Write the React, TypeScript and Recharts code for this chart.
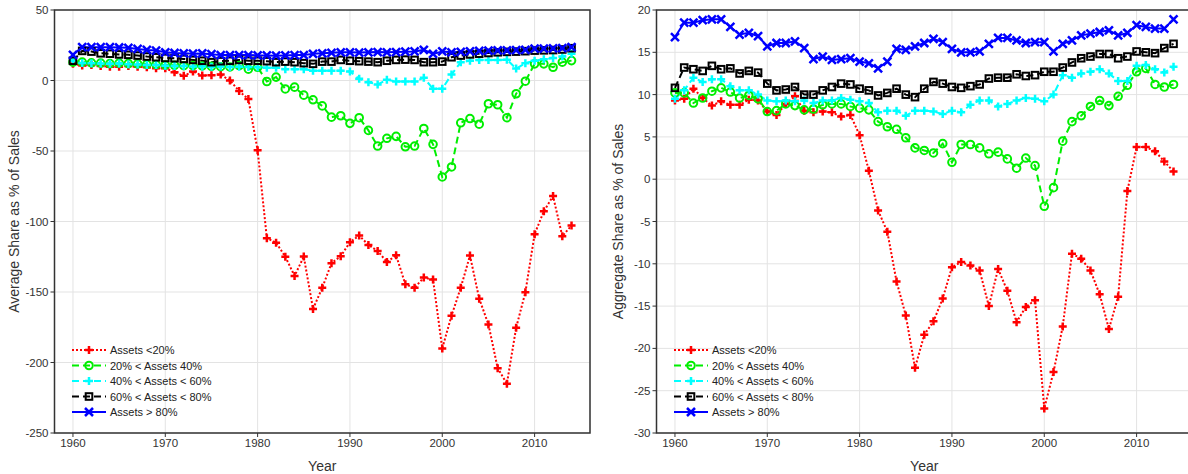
import React from 'react';
import { LineChart, Line, XAxis, YAxis, CartesianGrid, ReferenceArea, Label } from 'recharts';

const years = Array.from({ length: 55 }, (_, i) => 1960 + i);

const avgLt20 = [11.8,10.6,11,10.2,9.8,9.8,10.2,9.8,9.4,8.7,8.7,5.9,3.3,6.4,3.5,3.8,4.2,0,-7.5,-13.2,-49.5,-111.8,-115,-125,-138.6,-124.9,-162,-147,-129.6,-124.6,-114.7,-110,-116.6,-120.9,-128.7,-124,-144.5,-147,-139.8,-141.2,-190,-166.8,-147,-124.2,-154.7,-173,-204,-215,-175.4,-150.2,-109,-92.7,-82,-110.4,-102.8];
const avg20_40 = [13,13,12.5,12.3,12,12.3,12,11.8,11.5,11.3,11,10.8,10.5,10.6,10.3,10,9.8,9.6,10.6,8,9.4,-0.7,2.4,-6,-4.7,-10.4,-13.7,-18,-26,-25,-30.4,-26.4,-35.4,-46.5,-41,-39.6,-47,-46.5,-34,-45.3,-68.4,-61.3,-30,-27,-31,-16.5,-17.2,-26.4,-9.4,-0.5,11.8,11.8,9.4,13,14.1];
const avg40_60 = [14,12.5,12.3,12,11.8,12,11.5,11.3,11,11,10.5,10.3,10.2,10,10,9.8,10,9.6,9.8,9.5,9.4,9,9,8,8,8,7,7,7,7,6.4,1.2,-1.2,-2.8,0.5,-0.7,-0.7,-0.7,1.9,-5.9,-5.9,4.2,13,14,14.5,14.5,14.6,14.8,8.5,12.3,14,15,16,17,18.9];
const avg60_80 = [14,21,20.5,19.3,19,18.5,18.2,17.7,17,16.5,16,15.8,15.3,14.6,14,13,13.7,14,14.6,14,14,13.7,13,13.4,13,12.3,11.8,13.4,13.4,14.6,14,13.7,13.4,13,14,14.6,14.8,14.6,13,13,13.4,16.5,17.7,18.5,19,19.5,20,20.3,20.5,20.8,21.2,21.4,21.6,22,22.9];
const avgGt80 = [18.2,23.6,23.6,23.6,23.6,23.4,23.2,22.4,21.7,21.2,20,19.5,19.3,19,19.2,18.7,18,18,18,18,17.8,17.8,17.6,17.8,18,18,18.9,19.3,19.6,20,20,19.8,20,20.2,20,20.2,20.4,20.6,21.7,18.9,20.6,20,20.3,20.6,21,21.2,21.4,21.3,21.5,21.8,22.6,22.6,22.8,23,23.6];

const aggLt20 = [9.3,9.5,10.7,9.6,8.7,9.2,8.8,8.8,9.4,9.3,8,7.6,8.9,9.8,8.1,7.9,8,7.9,7.4,7.6,5.2,1,-3.7,-6.2,-12.1,-16.1,-22.3,-18.4,-16.8,-14.1,-10.4,-9.8,-10.2,-10.8,-15,-10.6,-13.2,-16.9,-15.1,-14.3,-27.1,-22.8,-17.4,-8.8,-9.4,-10.8,-13.6,-17.7,-13.9,-1.4,3.8,3.8,3.3,2.1,0.9];
const agg20_40 = [10.2,10.2,9,9.6,10.4,10.8,10.3,9.6,9.9,9.5,8,8.1,8.9,8.7,8.2,8.3,8.8,8.9,8.9,8.6,8.4,8.2,6.8,6.2,5.9,4.9,3.7,3.4,3.1,4.2,2,4.1,4.1,3.7,3,3.2,2.4,1.3,2.5,1.6,-3.2,-1,4.5,6.8,7.5,8.6,9.3,8.7,9.8,11.1,12.7,13.1,11.2,10.9,11.2];
const agg40_60 = [9.5,10.5,12,11.5,11.8,11.8,11,10.5,10.5,10,9.3,9.2,9.3,9.2,9.3,9,9.3,9.3,9.6,9.4,9.2,9,7.9,8.1,8.1,7.5,8.1,8.1,8,7.7,8.1,7.9,8.8,9.3,9.3,8.6,8.9,9.3,9.6,9.5,9.2,10,12.3,12,12.5,12.7,13,12.5,11.6,11.6,13.4,13.5,13,12.6,13.3];
const agg60_80 = [10.8,13.2,13,12.8,13.4,13,13.1,12.5,12.8,12.6,11.3,10.5,10.6,10.9,10,10,10.5,10.9,11.3,11.2,10.7,10.5,9.9,10.2,10.7,10,9.7,10.7,11.5,11.3,10.9,10.8,11,11.2,11.9,12,12,12.4,12.2,12.3,12.7,12.7,13.2,13.8,14.3,14.5,14.8,14.8,14.3,14.5,15.1,15,14.9,15.5,16];
const aggGt80 = [16.8,18.5,18.5,18.8,18.9,18.9,18,17.1,17.3,16.9,15.7,16.1,16.1,16.3,15.5,14.2,14.5,14.1,14.2,14.3,13.9,13.7,13.1,13.9,15.4,15.3,15.7,16.1,16.6,16.2,15.4,15,15,15.1,16,16.7,16.7,16.4,16.1,16.2,16.2,15.1,16,16.4,17,17.2,17.4,17.6,17,17.3,18.2,18,17.8,17.8,18.9];

const xTicks = [1960, 1970, 1980, 1990, 2000, 2010];
const leftTicks = [-250, -200, -150, -100, -50, 0, 50];
const rightTicks = [-30, -25, -20, -15, -10, -5, 0, 5, 10, 15, 20];

const seriesNames = ['Assets <20%', '20% < Assets 40%', '40% < Assets < 60%', '60% < Assets < 80%', 'Assets > 80%'];
const colors = ['#ff0000', '#00ee00', '#00ffff', '#000000', '#0000ff'];
const dashes = ['2 2', '7 4', '7 4', '7 4', undefined];
const markers = ['plus', 'circle', 'plus', 'square', 'x'];

function Marker({ cx, cy, kind, color }: any) {
  if (cx == null || cy == null) return null;
  const s = 4;
  if (kind === 'plus')
    return <path d={`M${cx - s},${cy}H${cx + s}M${cx},${cy - s}V${cy + s}`} stroke={color} strokeWidth={2.5} fill="none" />;
  if (kind === 'circle') return <circle cx={cx} cy={cy} r={3.8} stroke={color} strokeWidth={2} fill="none" />;
  if (kind === 'square') return <rect x={cx - 3.3} y={cy - 3.3} width={6.6} height={6.6} stroke={color} strokeWidth={2} fill="none" />;
  return <path d={`M${cx - s},${cy - s}L${cx + s},${cy + s}M${cx - s},${cy + s}L${cx + s},${cy - s}`} stroke={color} strokeWidth={2.5} fill="none" />;
}

function makeData(arrs: number[][]) {
  return years.map((y, i) => ({ year: y, s0: arrs[0][i], s1: arrs[1][i], s2: arrs[2][i], s3: arrs[3][i], s4: arrs[4][i] }));
}
const leftData = makeData([avgLt20, avg20_40, avg40_60, avg60_80, avgGt80]);
const rightData = makeData([aggLt20, agg20_40, agg40_60, agg60_80, aggGt80]);

const font = 'Liberation Sans, Arial, sans-serif';

function LegendBox({ left, top }: { left: number; top: number }) {
  return (
    <svg style={{ position: 'absolute', left, top }} width={160} height={85}>
      {seriesNames.map((n, i) => {
        const y = 8 + i * 15.5;
        return (
          <g key={n}>
            <line x1={2} x2={36} y1={y} y2={y} stroke={colors[i]} strokeWidth={2} strokeDasharray={dashes[i]} />
            <Marker cx={19} cy={y} kind={markers[i]} color={colors[i]} />
            <text x={40} y={y + 4} fontSize={11} fontFamily={font} fill="#222">{n}</text>
          </g>
        );
      })}
    </svg>
  );
}

function Panel({ data, ticks, domain, ylabel, marginLeft, marginRight, width, labelOffset }: any) {
  return (
    <LineChart width={width} height={474} data={data} margin={{ top: 10, right: marginRight, left: marginLeft, bottom: 15 }}>
      <CartesianGrid stroke="#e3e3e3" strokeWidth={1} />
      <XAxis dataKey="year" type="number" domain={[1958, 2016]} ticks={xTicks} allowDataOverflow
        tick={{ fontSize: 11.5, fill: '#333', fontFamily: font }} tickLine={{ stroke: '#333' }} tickSize={4} height={26} axisLine={false}>
        <Label value="Year" position="insideBottom" offset={-12} style={{ fontSize: 14, fill: '#333', fontFamily: font }} />
      </XAxis>
      <YAxis type="number" domain={domain} ticks={ticks} allowDataOverflow width={40}
        tick={{ fontSize: 11.5, fill: '#333', fontFamily: font }} tickLine={{ stroke: '#333' }} tickSize={4} axisLine={false}>
        <Label value={ylabel} angle={-90} position="insideLeft" offset={labelOffset} style={{ fontSize: 14, fill: '#333', fontFamily: font, textAnchor: 'middle' }} />
      </YAxis>
      <ReferenceArea x1={1958} x2={2016} y1={domain[0]} y2={domain[1]} fill="none" stroke="#333" strokeWidth={1.5} ifOverflow="visible" />
      {[0, 1, 2, 3, 4].map((i) => (
        <Line key={i} dataKey={`s${i}`} stroke={colors[i]} strokeWidth={2} strokeDasharray={dashes[i]}
          isAnimationActive={false} dot={(p: any) => <Marker key={p.index} cx={p.cx} cy={p.cy} kind={markers[i]} color={colors[i]} />} activeDot={false} />
      ))}
    </LineChart>
  );
}

export default function App() {
  return (
    <div style={{ position: 'absolute', left: 0, top: 0, width: 1188, height: 474, overflow: 'hidden', background: '#fff' }}>
      <div style={{ position: 'absolute', left: 0, top: 0 }}>
        <Panel data={leftData} ticks={leftTicks} domain={[-250, 50]} ylabel="Average Share as % of Sales" marginLeft={14.5} marginRight={10} width={600} labelOffset={0} />
      </div>
      <div style={{ position: 'absolute', left: 600, top: 0 }}>
        <Panel data={rightData} ticks={rightTicks} domain={[-30, 20]} ylabel="Aggregate Share as % of Sales" marginLeft={16.5} marginRight={8} width={600} labelOffset={2} />
      </div>
      <LegendBox left={70} top={342} />
      <LegendBox left={672} top={342} />
    </div>
  );
}
